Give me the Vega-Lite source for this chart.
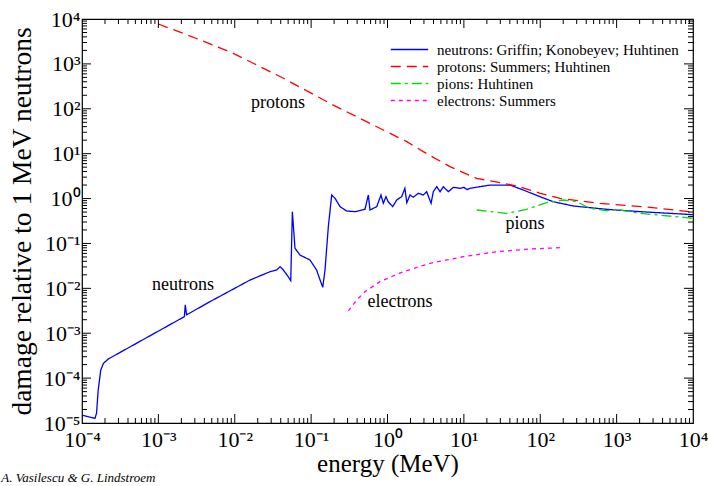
{
  "$schema": "https://vega.github.io/schema/vega-lite/v6.json",
  "width": 611,
  "height": 404,
  "autosize": {"type": "none"},
  "padding": {"left": 82, "top": 19, "right": 15, "bottom": 63},
  "background": "white",
  "config": {
    "view": {"stroke": "black", "strokeWidth": 1.2},
    "axis": {"domain": false, "grid": false, "ticks": false, "labelColor": "black", "titleColor": "black", "labelFont": "Liberation Serif", "titleFont": "Liberation Serif", "titleFontWeight": "normal"}
  },
  "title": {"text": "A. Vasilescu & G. Lindstroem", "orient": "bottom", "anchor": "start", "font": "Liberation Serif", "fontStyle": "italic", "fontWeight": "normal", "fontSize": 13, "color": "black", "dx": -7, "offset": -4},
  "datasets": {
    "curves": [
      {"series": "neutrons", "E": 1e-4, "D": 1.5e-5},
      {"series": "neutrons", "E": 1.48e-4, "D": 1.27e-5},
      {"series": "neutrons", "E": 1.55e-4, "D": 1.66e-5},
      {"series": "neutrons", "E": 1.63e-4, "D": 5.43e-5},
      {"series": "neutrons", "E": 1.76e-4, "D": 1.51e-4},
      {"series": "neutrons", "E": 1.91e-4, "D": 2.14e-4},
      {"series": "neutrons", "E": 2.21e-4, "D": 2.67e-4},
      {"series": "neutrons", "E": 2.19e-3, "D": 2.34e-3},
      {"series": "neutrons", "E": 2.25e-3, "D": 4.27e-3},
      {"series": "neutrons", "E": 2.34e-3, "D": 2.57e-3},
      {"series": "neutrons", "E": 4.74e-3, "D": 5.05e-3},
      {"series": "neutrons", "E": 1.585e-2, "D": 1.53e-2},
      {"series": "neutrons", "E": 2.9e-2, "D": 2.35e-2},
      {"series": "neutrons", "E": 3.54e-2, "D": 2.56e-2},
      {"series": "neutrons", "E": 3.92e-2, "D": 3.04e-2},
      {"series": "neutrons", "E": 4.33e-2, "D": 2.56e-2},
      {"series": "neutrons", "E": 5.01e-2, "D": 1.82e-2},
      {"series": "neutrons", "E": 5.41e-2, "D": 1.48e-2},
      {"series": "neutrons", "E": 5.68e-2, "D": 0.511},
      {"series": "neutrons", "E": 6.15e-2, "D": 7.8e-2},
      {"series": "neutrons", "E": 7.14e-2, "D": 5.53e-2},
      {"series": "neutrons", "E": 9.66e-2, "D": 4.28e-2},
      {"series": "neutrons", "E": 0.118, "D": 2.56e-2},
      {"series": "neutrons", "E": 0.131, "D": 1.53e-2},
      {"series": "neutrons", "E": 0.142, "D": 1.05e-2},
      {"series": "neutrons", "E": 0.152, "D": 2.56e-2},
      {"series": "neutrons", "E": 0.168, "D": 0.237},
      {"series": "neutrons", "E": 0.186, "D": 1.2},
      {"series": "neutrons", "E": 0.206, "D": 1.01},
      {"series": "neutrons", "E": 0.239, "D": 0.661},
      {"series": "neutrons", "E": 0.292, "D": 0.528},
      {"series": "neutrons", "E": 0.376, "D": 0.511},
      {"series": "neutrons", "E": 0.507, "D": 0.575},
      {"series": "neutrons", "E": 0.561, "D": 1.2},
      {"series": "neutrons", "E": 0.59, "D": 0.556},
      {"series": "neutrons", "E": 0.723, "D": 0.661},
      {"series": "neutrons", "E": 0.822, "D": 1.2},
      {"series": "neutrons", "E": 0.881, "D": 0.783},
      {"series": "neutrons", "E": 0.955, "D": 1.1},
      {"series": "neutrons", "E": 1.02, "D": 0.851},
      {"series": "neutrons", "E": 1.17, "D": 0.661},
      {"series": "neutrons", "E": 1.32, "D": 0.929},
      {"series": "neutrons", "E": 1.53, "D": 1.1},
      {"series": "neutrons", "E": 1.69, "D": 1.69},
      {"series": "neutrons", "E": 1.79, "D": 0.809},
      {"series": "neutrons", "E": 1.97, "D": 1.2},
      {"series": "neutrons", "E": 2.18, "D": 1.07},
      {"series": "neutrons", "E": 2.53, "D": 1.31},
      {"series": "neutrons", "E": 2.94, "D": 1.2},
      {"series": "neutrons", "E": 3.26, "D": 1.42},
      {"series": "neutrons", "E": 3.72, "D": 0.783},
      {"series": "neutrons", "E": 3.98, "D": 1.42},
      {"series": "neutrons", "E": 4.41, "D": 1.84},
      {"series": "neutrons", "E": 4.88, "D": 1.42},
      {"series": "neutrons", "E": 5.38, "D": 1.84},
      {"series": "neutrons", "E": 6.27, "D": 1.42},
      {"series": "neutrons", "E": 7.28, "D": 1.78},
      {"series": "neutrons", "E": 8.91, "D": 1.69},
      {"series": "neutrons", "E": 10.0, "D": 1.78},
      {"series": "neutrons", "E": 11.0, "D": 1.58},
      {"series": "neutrons", "E": 12.0, "D": 1.69},
      {"series": "neutrons", "E": 16.3, "D": 1.84},
      {"series": "neutrons", "E": 22.0, "D": 2.0},
      {"series": "neutrons", "E": 40.2, "D": 2.0},
      {"series": "neutrons", "E": 60.0, "D": 1.55},
      {"series": "neutrons", "E": 99.3, "D": 1.1},
      {"series": "neutrons", "E": 148, "D": 0.851},
      {"series": "neutrons", "E": 271, "D": 0.682},
      {"series": "neutrons", "E": 741, "D": 0.575},
      {"series": "neutrons", "E": 2020, "D": 0.511},
      {"series": "neutrons", "E": 8280, "D": 0.446},
      {"series": "neutrons", "E": 10000, "D": 0.437},
      {"series": "protons", "E": 1e-3, "D": 7740},
      {"series": "protons", "E": 3.16e-3, "D": 3680},
      {"series": "protons", "E": 9.57e-3, "D": 1722},
      {"series": "protons", "E": 4.33e-2, "D": 478},
      {"series": "protons", "E": 0.195, "D": 121},
      {"series": "protons", "E": 0.881, "D": 33.7},
      {"series": "protons", "E": 1.79, "D": 18.5},
      {"series": "protons", "E": 2.94, "D": 11.1},
      {"series": "protons", "E": 6.58, "D": 5.13},
      {"series": "protons", "E": 14.7, "D": 2.82},
      {"series": "protons", "E": 32.8, "D": 2.19},
      {"series": "protons", "E": 49.0, "D": 1.91},
      {"series": "protons", "E": 100, "D": 1.31},
      {"series": "protons", "E": 182, "D": 1.01},
      {"series": "protons", "E": 603, "D": 0.783},
      {"series": "protons", "E": 2735, "D": 0.638},
      {"series": "protons", "E": 10000, "D": 0.5},
      {"series": "pions", "E": 14.7, "D": 0.556},
      {"series": "pions", "E": 36.3, "D": 0.469},
      {"series": "pions", "E": 66.4, "D": 0.575},
      {"series": "pions", "E": 121, "D": 0.809},
      {"series": "pions", "E": 200, "D": 0.929},
      {"series": "pions", "E": 300, "D": 0.851},
      {"series": "pions", "E": 448, "D": 0.607},
      {"series": "pions", "E": 741, "D": 0.537},
      {"series": "pions", "E": 1000, "D": 0.575},
      {"series": "pions", "E": 1225, "D": 0.537},
      {"series": "pions", "E": 2020, "D": 0.469},
      {"series": "pions", "E": 8280, "D": 0.375},
      {"series": "pions", "E": 10000, "D": 0.363},
      {"series": "electrons", "E": 0.307, "D": 3.13e-3},
      {"series": "electrons", "E": 0.395, "D": 5.5e-3},
      {"series": "electrons", "E": 0.507, "D": 8.41e-3},
      {"series": "electrons", "E": 0.798, "D": 1.41e-2},
      {"series": "electrons", "E": 1.61, "D": 2.35e-2},
      {"series": "electrons", "E": 3.61, "D": 3.61e-2},
      {"series": "electrons", "E": 9.84, "D": 5.07e-2},
      {"series": "electrons", "E": 26.9, "D": 6.55e-2},
      {"series": "electrons", "E": 73.5, "D": 7.52e-2},
      {"series": "electrons", "E": 182, "D": 8.04e-2}
    ],
    "notes": [
      {"label": "protons", "E": 3.69e-2, "D": 135},
      {"label": "neutrons", "E": 2.1e-3, "D": 1.19e-2},
      {"label": "electrons", "E": 1.46, "D": 4.97e-3},
      {"label": "pions", "E": 63.1, "D": 0.271}
    ],
    "xmajor": [{"v": 1e-3}, {"v": 1e-2}, {"v": 0.1}, {"v": 1}, {"v": 10}, {"v": 100}, {"v": 1000}],
    "xminor": [{"v":2e-4},{"v":3e-4},{"v":4e-4},{"v":5e-4},{"v":6e-4},{"v":7e-4},{"v":8e-4},{"v":9e-4},{"v":2e-3},{"v":3e-3},{"v":4e-3},{"v":5e-3},{"v":6e-3},{"v":7e-3},{"v":8e-3},{"v":9e-3},{"v":2e-2},{"v":3e-2},{"v":4e-2},{"v":5e-2},{"v":6e-2},{"v":7e-2},{"v":8e-2},{"v":9e-2},{"v":0.2},{"v":0.3},{"v":0.4},{"v":0.5},{"v":0.6},{"v":0.7},{"v":0.8},{"v":0.9},{"v":2},{"v":3},{"v":4},{"v":5},{"v":6},{"v":7},{"v":8},{"v":9},{"v":20},{"v":30},{"v":40},{"v":50},{"v":60},{"v":70},{"v":80},{"v":90},{"v":200},{"v":300},{"v":400},{"v":500},{"v":600},{"v":700},{"v":800},{"v":900},{"v":2000},{"v":3000},{"v":4000},{"v":5000},{"v":6000},{"v":7000},{"v":8000},{"v":9000}],
    "ymajor": [{"v": 1e-4}, {"v": 1e-3}, {"v": 1e-2}, {"v": 0.1}, {"v": 1}, {"v": 10}, {"v": 100}, {"v": 1000}],
    "yminor": [{"v":2e-5},{"v":3e-5},{"v":4e-5},{"v":5e-5},{"v":6e-5},{"v":7e-5},{"v":8e-5},{"v":9e-5},{"v":2e-4},{"v":3e-4},{"v":4e-4},{"v":5e-4},{"v":6e-4},{"v":7e-4},{"v":8e-4},{"v":9e-4},{"v":2e-3},{"v":3e-3},{"v":4e-3},{"v":5e-3},{"v":6e-3},{"v":7e-3},{"v":8e-3},{"v":9e-3},{"v":2e-2},{"v":3e-2},{"v":4e-2},{"v":5e-2},{"v":6e-2},{"v":7e-2},{"v":8e-2},{"v":9e-2},{"v":0.2},{"v":0.3},{"v":0.4},{"v":0.5},{"v":0.6},{"v":0.7},{"v":0.8},{"v":0.9},{"v":2},{"v":3},{"v":4},{"v":5},{"v":6},{"v":7},{"v":8},{"v":9},{"v":20},{"v":30},{"v":40},{"v":50},{"v":60},{"v":70},{"v":80},{"v":90},{"v":200},{"v":300},{"v":400},{"v":500},{"v":600},{"v":700},{"v":800},{"v":900},{"v":2000},{"v":3000},{"v":4000},{"v":5000},{"v":6000},{"v":7000},{"v":8000},{"v":9000}]
  },
  "layer": [
    {
      "data": {"name": "curves"},
      "mark": {"type": "line", "strokeWidth": 1.3, "clip": true},
      "encoding": {
        "x": {"field": "E", "type": "quantitative", "scale": {"type": "log", "domain": [1e-4, 1e4], "nice": false, "padding": 0},
          "axis": {"orient": "bottom", "values": [1e-4, 1e-3, 1e-2, 1e-1, 1, 10, 100, 1000, 10000], "labelExpr": "'10' + ['⁻⁵','⁻⁴','⁻³','⁻²','⁻¹','⁰','¹','²','³','⁴'][round(log(datum.value)/LN10)+5]", "ticks": false, "labelFontSize": 22, "labelPadding": 6, "labelFlush": false, "labelOverlap": false, "title": "energy (MeV)", "titleFontSize": 25, "titlePadding": 1}},
        "y": {"field": "D", "type": "quantitative", "scale": {"type": "log", "domain": [1e-5, 1e4], "nice": false, "padding": 0},
          "axis": {"orient": "left", "values": [1e-5, 1e-4, 1e-3, 1e-2, 1e-1, 1, 10, 100, 1000, 10000], "labelExpr": "'10' + ['⁻⁵','⁻⁴','⁻³','⁻²','⁻¹','⁰','¹','²','³','⁴'][round(log(datum.value)/LN10)+5]", "ticks": false, "labelFontSize": 22, "labelPadding": 2, "labelFlush": false, "labelOverlap": false, "labelBaseline": "middle", "title": "damage relative to 1 MeV neutrons", "titleFontSize": 27.5, "titlePadding": 7}},
        "color": {"field": "series", "type": "nominal",
          "scale": {"domain": ["neutrons", "protons", "pions", "electrons"], "range": ["#0000ff", "#ff0000", "#00dd00", "#ff00ff"]},
          "legend": {"orient": "none", "legendX": 308, "legendY": 22, "title": null, "symbolType": "stroke", "symbolSize": 1400, "symbolStrokeWidth": 1.5, "clipHeight": 17, "labelFont": "Liberation Serif", "labelFontSize": 15, "labelColor": "black", "labelOffset": 8, "rowPadding": 0, "labelLimit": 400, "labelExpr": "{'neutrons': 'neutrons: Griffin; Konobeyev; Huhtinen', 'protons': 'protons: Summers; Huhtinen', 'pions': 'pions: Huhtinen', 'electrons': 'electrons: Summers'}[datum.label]"}},
        "strokeDash": {"field": "series", "type": "nominal",
          "scale": {"domain": ["neutrons", "protons", "pions", "electrons"], "range": [[1, 0], [10, 6], [10, 4, 3, 4], [4, 4]]},
          "legend": {"orient": "none", "legendX": 308, "legendY": 22, "title": null, "symbolType": "stroke", "symbolSize": 1400, "symbolStrokeWidth": 1.5, "clipHeight": 17, "labelFont": "Liberation Serif", "labelFontSize": 15, "labelColor": "black", "labelOffset": 8, "rowPadding": 0, "labelLimit": 400, "labelExpr": "{'neutrons': 'neutrons: Griffin; Konobeyev; Huhtinen', 'protons': 'protons: Summers; Huhtinen', 'pions': 'pions: Huhtinen', 'electrons': 'electrons: Summers'}[datum.label]"}}
      }
    },
    {
      "data": {"name": "notes"},
      "mark": {"type": "text", "font": "Liberation Serif", "fontSize": 18, "align": "center", "baseline": "middle", "color": "black"},
      "encoding": {
        "x": {"field": "E", "type": "quantitative", "scale": {"type": "log", "padding": 0}},
        "y": {"field": "D", "type": "quantitative", "scale": {"type": "log", "padding": 0}},
        "text": {"field": "label"}
      }
    },
    {
      "data": {"name": "xmajor"},
      "mark": {"type": "bar", "color": "black", "width": 1, "clip": false},
      "encoding": {
        "x": {"field": "v", "type": "quantitative", "scale": {"type": "log", "padding": 0}},
        "y": {"datum": 1e-5, "type": "quantitative", "scale": {"type": "log", "padding": 0}},
        "y2": {"datum": 1.587e-5}
      }
    },
    {
      "data": {"name": "xmajor"},
      "mark": {"type": "bar", "color": "black", "width": 1, "clip": false},
      "encoding": {
        "x": {"field": "v", "type": "quantitative", "scale": {"type": "log", "padding": 0}},
        "y": {"datum": 10000, "type": "quantitative", "scale": {"type": "log", "padding": 0}},
        "y2": {"datum": 6302}
      }
    },
    {
      "data": {"name": "xminor"},
      "mark": {"type": "bar", "color": "black", "width": 1, "clip": false},
      "encoding": {
        "x": {"field": "v", "type": "quantitative", "scale": {"type": "log", "padding": 0}},
        "y": {"datum": 1e-5, "type": "quantitative", "scale": {"type": "log", "padding": 0}},
        "y2": {"datum": 1.292e-5}
      }
    },
    {
      "data": {"name": "xminor"},
      "mark": {"type": "bar", "color": "black", "width": 1, "clip": false},
      "encoding": {
        "x": {"field": "v", "type": "quantitative", "scale": {"type": "log", "padding": 0}},
        "y": {"datum": 10000, "type": "quantitative", "scale": {"type": "log", "padding": 0}},
        "y2": {"datum": 7739}
      }
    },
    {
      "data": {"name": "ymajor"},
      "mark": {"type": "bar", "color": "black", "height": 1, "orient": "horizontal", "clip": false},
      "encoding": {
        "y": {"field": "v", "type": "quantitative", "scale": {"type": "log", "padding": 0}},
        "x": {"datum": 1e-4, "type": "quantitative", "scale": {"type": "log", "padding": 0}},
        "x2": {"datum": 1.3116e-4}
      }
    },
    {
      "data": {"name": "ymajor"},
      "mark": {"type": "bar", "color": "black", "height": 1, "orient": "horizontal", "clip": false},
      "encoding": {
        "y": {"field": "v", "type": "quantitative", "scale": {"type": "log", "padding": 0}},
        "x": {"datum": 10000, "type": "quantitative", "scale": {"type": "log", "padding": 0}},
        "x2": {"datum": 7624}
      }
    },
    {
      "data": {"name": "yminor"},
      "mark": {"type": "bar", "color": "black", "height": 1, "orient": "horizontal", "clip": false},
      "encoding": {
        "y": {"field": "v", "type": "quantitative", "scale": {"type": "log", "padding": 0}},
        "x": {"datum": 1e-4, "type": "quantitative", "scale": {"type": "log", "padding": 0}},
        "x2": {"datum": 1.1627e-4}
      }
    },
    {
      "data": {"name": "yminor"},
      "mark": {"type": "bar", "color": "black", "height": 1, "orient": "horizontal", "clip": false},
      "encoding": {
        "y": {"field": "v", "type": "quantitative", "scale": {"type": "log", "padding": 0}},
        "x": {"datum": 10000, "type": "quantitative", "scale": {"type": "log", "padding": 0}},
        "x2": {"datum": 8601}
      }
    }
  ]
}
